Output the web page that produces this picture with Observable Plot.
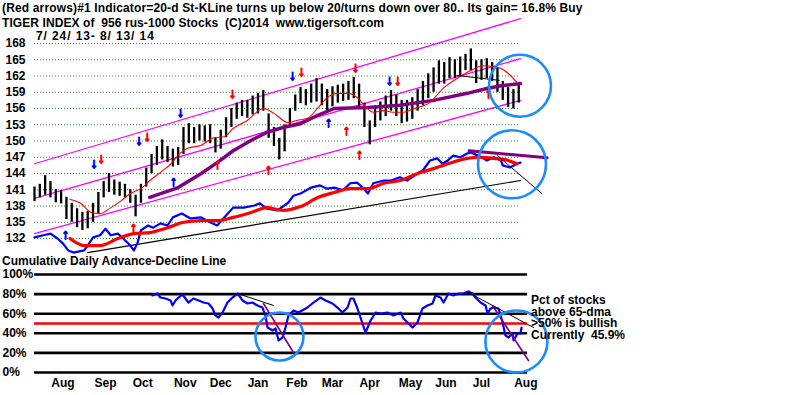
<!DOCTYPE html>
<html><head><meta charset="utf-8">
<script src="https://cdn.jsdelivr.net/npm/d3@7"></script>
<script src="https://cdn.jsdelivr.net/npm/@observablehq/plot@0.6"></script>
<style>
body{margin:0;background:#fff;}
#wrap{position:relative;width:800px;height:395px;overflow:hidden;font-family:"Liberation Sans",Arial,sans-serif;font-weight:bold;color:#000;background:#fff;}
.t{position:absolute;white-space:pre;font-size:12px;line-height:1;}
#top,#bot{position:absolute;left:0;}
</style></head><body>
<div id="wrap">
  <div id="bot" style="top:250px"></div>
  <div id="top" style="top:0px"></div>
  <div class="t" style="left:2px;top:2px;letter-spacing:0.15px">(Red arrows)#1 Indicator=20-d St-KLine turns up below 20/turns down over 80.. Its gain= 16.8% Buy</div>
  <div class="t" style="left:2px;top:16.6px;letter-spacing:0.08px">TIGER INDEX of  956 rus-1000 Stocks  (C)2014  www.tigersoft.com</div>
  <div class="t" style="left:36px;top:30px;letter-spacing:0.9px">7/ 24/ 13- 8/ 13/ 14</div>
  <div class="t" style="left:2px;top:255px">Cumulative Daily Advance-Decline Line</div>
  <div class="t" style="left:531px;top:295px;line-height:11.7px">Pct of stocks
above 65-dma
&gt;50% is bullish
Currently  45.9%</div>
</div>
<script>
// ---- price bars (every 3 trading days) ----
const barHigh = [141.5,142,143.6,142.5,141,140.8,139.6,138.5,137.5,136.8,137,138.5,140.5,142.5,144,142.8,142.4,142,141,140,142,145,147.5,149,150.2,149,148.5,148.8,152.5,153.2,152.5,153,152.8,153,150.5,152,154.3,156,157,157.5,157.5,158.3,158.8,159.3,155,152.5,150.5,153,156,158.5,159.9,159.5,160.5,161.5,160.5,159.5,160,160.3,160.5,161,161.7,160.5,157,153.7,156.5,157.2,158.3,159.3,158.5,157.5,157.5,158,159.5,161,162.4,163.5,164.8,164.5,165.4,165,165.5,166,167,164.8,165,165.2,164.5,163.5,161,159.9,159.5,160.6];
const barLow  = [138.8,139.5,140,139.5,138.6,138.4,135.5,135,134,133.5,133.8,135,136.5,139.5,140.5,140,139.8,139.5,138.5,136,138.5,141.5,144,145.5,146.5,146,145.2,145.5,147.5,149.5,149.5,150,149.8,149.5,147.8,148.5,150.6,152.5,154,154.5,154.2,154.8,155,155.5,150.5,149,146.5,148,152.5,155.5,156.9,156.5,157,157.2,156.5,155.6,156.3,157,157.3,157.5,157.8,156,152.5,149.3,152.5,153.7,154.5,155.5,154.5,153.2,153.5,154,155.5,156.5,157.8,159,160.5,160.5,161.5,161.5,162,163,163,160.6,161.2,161.5,161,159,157.5,156.2,155.9,157];
const barDay = d3.range(0, 274, 3);

// ---- overlay lines (top panel, in price-axis units) ----
const rmDay = [20,26,32,37,43,49,54,60,65,71,77,82,86,94,101,107,112,120,129,135,143,148,154,160,165,171,177,182,186,191,197,202,208,214,222,231,239,246,253,261,267,272];
const rmVal = [139.2,138.5,136.8,136.6,137.7,139.0,140.3,141.2,142.7,144.2,145.8,147.7,148.6,149.2,150.6,150.8,152.3,153.8,156.0,155.1,153.4,153.8,154.2,156.2,158.0,158.8,158.8,158.0,156.6,155.3,155.6,155.3,155.3,156.0,156.9,159.9,161.7,163.0,163.9,163.6,162.5,160.8];
const puDay = [65,81,94,103,112,122,131,140,150,160,169,188,206,225,244,255,263,274];
const puVal = [139.6,141.4,144.0,146.0,148.2,150.1,151.6,152.5,153.2,154.8,156.0,156.2,156.6,157.5,158.8,159.7,160.2,160.6];
const blueDay = [0,5,9,13,16,19,22,28,30,33,37,40,43,47,50,54,56,58,60,64,67,71,75,78,83,88,94,99,103,109,112,118,124,127,131,137,143,146,150,156,161,165,169,174,178,182,185,188,191,197,201,206,210,216,219,223,227,230,233,236,240,244,246,250,253,255,259,263,264,268,272,274];
const blueVal = [132.2,132.6,132.9,132.0,131.1,129.8,129.4,129.8,130.7,132.2,132.6,133.8,132.6,132.9,132.0,130.7,129.8,131.1,133.5,134.4,134.0,134.8,134.4,135.9,136.6,135.7,135.9,135.0,134.4,136.6,137.7,137.7,138.1,138.5,137.5,137.2,138.6,139.9,140.3,141.4,141.8,141.2,141.4,140.9,142.2,142.3,141.4,140.3,142.2,142.7,142.7,143.3,142.7,144.0,144.6,146.4,146.8,145.8,146.4,147.3,147.0,147.7,147.9,147.3,146.8,146.4,147.0,146.4,145.5,145.1,145.8,146.0];
const rtDay = [20,28,37,47,56,65,75,84,94,103,112,122,131,140,150,160,169,178,188,197,206,216,225,235,244,252,259,267,272];
const rtVal = [132.0,130.7,130.7,132.0,132.9,133.1,134.0,135.0,135.3,135.3,135.9,136.8,137.7,137.2,137.9,139.6,140.5,141.2,141.2,142.2,142.7,144.0,144.9,146.0,146.8,147.0,146.8,146.4,145.8];

// channel + trend lines: [day, value] end points
const chDay = [0, 274];
const chTop = [145.8, 172.6];
const chMid = [139.4, 165.2];
const chLow = [132.9, 157.5];
const trendDay = [30, 274];   const trendVal = [129.4, 142.7];
const topBlkDay = [238, 262]; const topBlkVal = [162.1, 161.2];
const diagDay = [261, 286];   const diagVal = [147.3, 140.3];
const adPurDay = [245, 289];  const adPurVal = [148.2, 146.9];

// arrows
const arrDay = [17.5,33.6,37.6,58.9,63.6,55.8,78.4,82.3,103.2,111.6,131.9,145.4,150.5,181,165.8,175.9,183.2,200.2,204.8,256];
const arrVal = [132.7,145.8,146.8,150.1,150.8,134.0,142.5,155.3,145.7,158.8,144.7,162.1,162.8,163.6,153.4,151.9,147.5,161.2,161.2,158.8];
const arrDir = ["up","down","down","down","down","up","up","down","up","down","up","down","down","down","up","up","up","down","down","up"];
const arrCol = ["blue","blue","red","blue","red","red","blue","blue","red","red","red","blue","red","red","blue","red","red","blue","red","red"];

// circles
const circTopDay = [273.7, 269.2]; const circTopVal = [160.2, 145.7];
const circBotDay = [138.1, 271.7]; const circBotVal = [36.7, 31.6];

// y ticks
const priceTicks = [132,135,138,141,144,147,150,153,156,159,162,165,168];
const pctTicks = [0,20,40,60,80,100];

// bottom panel: pct of stocks above 65-dma
const pctDay = [66.5,69.3,71.0,73.9,76.7,77.8,79.5,81.2,83.4,85.1,86.8,89.6,92.5,95.3,98.1,100.4,102.0,103.7,106.0,108.8,111.6,114.5,117.3,120.1,122.9,125.7,128.5,130.2,131.4,134.2,135.9,137.6,139.8,141.5,143.2,146.0,148.8,153.9,157.3,161.2,164.1,168.0,170.8,173.6,176.5,178.2,179.8,182.1,183.8,186.6,189.5,192.3,195.1,199.0,202.4,206.4,208.0,210.3,213.1,215.9,218.7,221.6,224.4,226.1,228.9,230.6,233.4,236.2,239.0,241.9,244.7,246.9,248.6,251.5,254.3,255.4,257.1,258.8,261.6,263.9,265.5,267.2,269.5,270.1,272.3,274.0,274.6];
const pctVal = [78.6,80.6,76.5,75.5,73.5,68.4,73.5,76.5,79.6,75.5,71.4,75.5,73.5,71.4,70.4,65.3,58.2,56.1,61.2,71.4,76.5,80.6,73.5,70.4,71.4,68.4,66.3,58.2,45.9,42.9,44.9,32.7,35.7,45.9,58.2,63.3,61.2,66.3,71.4,76.5,73.5,70.4,66.3,61.2,66.3,75.5,75.5,65.3,56.1,40.8,53.1,61.2,60.2,61.2,58.2,61.2,55.1,51.0,45.9,51.0,65.3,68.4,70.4,78.6,76.5,71.4,80.6,78.6,80.6,80.6,82.7,80.6,76.5,71.4,68.4,60.2,65.3,66.3,65.3,51.0,37.8,35.7,39.8,32.7,39.8,39.8,45.9];
const botBlk1Day = [114.5, 134.7]; const botBlk1Val = [80.6, 68.4];
const botPur1Day = [129.1, 146.0]; const botPur1Val = [70.4, 20.4];
const botBlk2Day = [244.7, 281.3]; const botBlk2Val = [81.6, 45.9];
const botPur2Day = [258.2, 278.5]; const botPur2Val = [68.4, 12.2];
const ruleEndDay = 278;

// month tick labels
const monthLabel = ["Aug","Sep","Oct","Nov","Dec","Jan","Feb","Mar","Apr","May","Jun","Jul","Aug"];
const monthDay = [16,40,61,85,105,126,148,168,189,212,232,252,277];

// ---- build ----
const zip = (xs, ys) => xs.map((x, i) => ({x, y: ys[i]}));
const bars = barDay.map((d, i) => ({x: d, hi: barHigh[i], lo: barLow[i]}));
const arrows = arrDay.map((d, i) => ({x: d, y: arrVal[i], dir: arrDir[i], col: arrCol[i]}));
const font = "Liberation Sans, Arial, sans-serif";
const arrowText = d => d.dir === "up" ? "↑" : "↓";

const topPlot = Plot.plot({
  width: 800, height: 255,
  marginTop: 43, marginBottom: 17, marginLeft: 34, marginRight: 280,
  x: {type: "linear", domain: [0, 274], axis: null},
  y: {type: "linear", domain: [132, 168], axis: null},
  style: {background: "transparent", fontFamily: font, fontSize: "12px", fontWeight: "bold", overflow: "visible"},
  marks: [
    Plot.ruleY(priceTicks, {stroke: "#2e8b2e", strokeDasharray: "1,2", strokeWidth: 1}),
    Plot.text(priceTicks, {y: d => d, text: d => String(d), frameAnchor: "left", textAnchor: "start", dx: -29, fill: "#000"}),
    Plot.line(zip(chDay, chTop), {x: "x", y: "y", stroke: "#ff00ff", strokeWidth: 1.3}),
    Plot.line(zip(chDay, chMid), {x: "x", y: "y", stroke: "#ff00ff", strokeWidth: 1.3}),
    Plot.line(zip(chDay, chLow), {x: "x", y: "y", stroke: "#ff00ff", strokeWidth: 1.3}),
    Plot.line(zip(trendDay, trendVal), {x: "x", y: "y", stroke: "#000", strokeWidth: 1.1}),
    Plot.ruleX(bars, {x: "x", y1: "lo", y2: "hi", stroke: "#000", strokeWidth: 2.3}),
    Plot.line(zip(puDay, puVal), {x: "x", y: "y", stroke: "#800080", strokeWidth: 3.5}),
    Plot.line(zip(rmDay, rmVal), {x: "x", y: "y", stroke: "#ff0000", strokeWidth: 1.1, curve: "monotone-x"}),
    Plot.line(zip(topBlkDay, topBlkVal), {x: "x", y: "y", stroke: "#000", strokeWidth: 1}),
    Plot.line(zip(blueDay, blueVal), {x: "x", y: "y", stroke: "#0000ff", strokeWidth: 2.2}),
    Plot.line(zip(rtDay, rtVal), {x: "x", y: "y", stroke: "#ff0000", strokeWidth: 3.2, curve: "monotone-x"}),
    Plot.line(zip(adPurDay, adPurVal), {x: "x", y: "y", stroke: "#800080", strokeWidth: 3}),
    Plot.line(zip(diagDay, diagVal), {x: "x", y: "y", stroke: "#000", strokeWidth: 1}),
    Plot.text(arrows.filter(a => a.col === "red"), {x: "x", y: "y", text: arrowText, fill: "#ff0000", stroke: "#ff0000", strokeWidth: 1.3, fontSize: 14, fontWeight: "bold", fontFamily: font}),
    Plot.text(arrows.filter(a => a.col === "blue"), {x: "x", y: "y", text: arrowText, fill: "#0000ff", stroke: "#0000ff", strokeWidth: 1.3, fontSize: 14, fontWeight: "bold", fontFamily: font}),
    Plot.dot(zip(circTopDay, circTopVal).slice(0, 1), {x: "x", y: "y", r: 31, stroke: "#1a8cff", strokeWidth: 2.6, fill: "none"}),
    Plot.dot(zip(circTopDay, circTopVal).slice(1), {x: "x", y: "y", r: 34, stroke: "#1a8cff", strokeWidth: 2.6, fill: "none"})
  ]
});

const ruleData = pctTicks.map(v => ({y: v, x1: 0, x2: ruleEndDay}));
const botPlot = Plot.plot({
  width: 800, height: 145,
  marginTop: 24, marginBottom: 23, marginLeft: 34, marginRight: 280,
  x: {type: "linear", domain: [0, 274], axis: null},
  y: {type: "linear", domain: [0, 100], axis: null},
  style: {background: "transparent", fontFamily: font, fontSize: "12px", fontWeight: "bold", overflow: "visible"},
  marks: [
    Plot.ruleY(ruleData, {y: "y", x1: "x1", x2: "x2", stroke: "#000", strokeWidth: 2.6}),
    Plot.ruleY([{y: 50, x1: 0, x2: ruleEndDay}], {y: "y", x1: "x1", x2: "x2", stroke: "#ff0000", strokeWidth: 2.6}),
    Plot.text(pctTicks, {y: d => d, text: d => d + "%", frameAnchor: "left", textAnchor: "start", dx: -32, fill: "#000"}),
    Plot.text(monthDay, {x: d => d, text: (d, i) => monthLabel[i], frameAnchor: "bottom", dy: 14, fill: "#000"}),
    Plot.line(zip(pctDay, pctVal), {x: "x", y: "y", stroke: "#0000ff", strokeWidth: 2.2}),
    Plot.line(zip(botBlk1Day, botBlk1Val), {x: "x", y: "y", stroke: "#000", strokeWidth: 1}),
    Plot.line(zip(botPur1Day, botPur1Val), {x: "x", y: "y", stroke: "#800080", strokeWidth: 1.6}),
    Plot.line(zip(botBlk2Day, botBlk2Val), {x: "x", y: "y", stroke: "#000", strokeWidth: 1}),
    Plot.line(zip(botPur2Day, botPur2Val), {x: "x", y: "y", stroke: "#800080", strokeWidth: 1.6}),
    Plot.dot(zip(circBotDay, circBotVal).slice(0, 1), {x: "x", y: "y", r: 24, stroke: "#1a8cff", strokeWidth: 2.6, fill: "none"}),
    Plot.dot(zip(circBotDay, circBotVal).slice(1), {x: "x", y: "y", r: 31, stroke: "#1a8cff", strokeWidth: 2.6, fill: "none"})
  ]
});

document.getElementById("top").appendChild(topPlot);
document.getElementById("bot").appendChild(botPlot);
</script>
</body></html>
